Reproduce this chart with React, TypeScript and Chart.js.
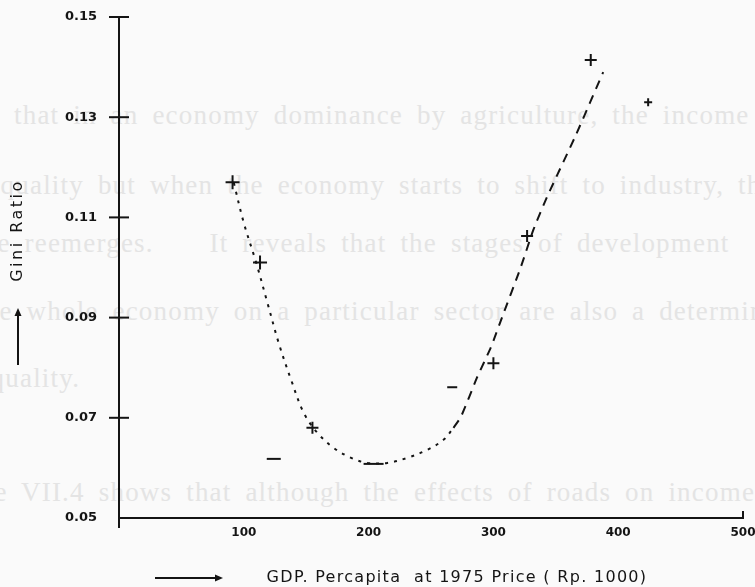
import React, { useEffect, useRef } from "react";
import { Chart, registerables } from "chart.js";

Chart.register(...registerables);

// Observed provinces (GDP per capita, Gini ratio)
const gdpObserved = [91, 113, 124, 155, 204, 267, 300, 327, 378, 424];
const giniObserved = [0.117, 0.101, 0.0618, 0.068, 0.0608, 0.0761, 0.0809, 0.1063, 0.1414, 0.133];

// Fitted curve, falling (dotted) part
const fallGdp = [92, 100, 110, 119, 128, 138, 148, 159, 172, 186, 199, 215, 231, 247, 260, 268];
const fallGini = [0.1169, 0.1089, 0.1009, 0.0929, 0.0849, 0.0775, 0.071, 0.067, 0.064, 0.062, 0.061, 0.061, 0.062, 0.0636, 0.0656, 0.068];

// Fitted curve, rising (dashed) part
const riseGdp = [268, 274, 287, 298, 307, 322, 332, 343, 366, 388];
const riseGini = [0.068, 0.0702, 0.0781, 0.0841, 0.0901, 0.1001, 0.1075, 0.1141, 0.1264, 0.139];

const xTicks = [100, 200, 300, 400, 500];
const yTicks = [0.05, 0.07, 0.09, 0.11, 0.13, 0.15];

const yTitle = "Gini Ratio";
const xTitle = "GDP. Percapita  at 1975 Price ( Rp. 1000)";

// faint page text showing through the scan
const pageLines = [
  "that in an economy dominance by agriculture, the income",
  "inequality but when the economy starts to shift to industry, the",
  "the reemerges.    It reveals that the stages of development",
  "the whole economy on a particular sector are also a determinant",
  "inequality.",
  "Table VII.4 shows that although the effects of roads on income",
];
const pageLineTop = [99, 169, 227, 295, 362, 476];
const pageLineLeft = [14, -36, -26, -24, -46, -58];

// marker styles (one per observed point)
const markerStyles = ["cross", "cross", "line", "cross", "line", "line", "cross", "cross", "cross", "cross"];
const markerSizes = [7, 7, 7, 6, 10, 5, 6, 6, 6, 4];

const INK = "#141414";

const decorPlugin = {
  id: "decor",
  beforeDraw(chart: any) {
    const patch = (s: any, dx: number, dy: number, sp: string, lsp: string) => {
      if (!s || s.__patched) return;
      const origTitle = s.drawTitle;
      const origLabels = s.drawLabels;
      s.drawTitle = function (...args: any[]) {
        const ctx = this.ctx;
        ctx.save();
        ctx.translate(dx, dy);
        ctx.letterSpacing = sp;
        origTitle.apply(this, args);
        ctx.restore();
      };
      s.drawLabels = function (...args: any[]) {
        const ctx = this.ctx;
        ctx.save();
        ctx.letterSpacing = lsp;
        origLabels.apply(this, args);
        ctx.restore();
      };
      s.__patched = true;
    };
    patch(chart.scales.x, 26, 0, "1.3px", "0px");
    patch(chart.scales.y, 0, -37, "2.5px", "0px");
  },
  afterDraw(chart: any) {
    const { ctx } = chart;
    const x = chart.scales.x;
    const y = chart.scales.y;
    const px0 = x.getPixelForValue(0);
    ctx.save();
    ctx.strokeStyle = INK;
    ctx.fillStyle = INK;
    ctx.lineWidth = 2;
    const line = (a: number, b: number, c: number, d: number) => {
      ctx.beginPath();
      ctx.moveTo(a, b);
      ctx.lineTo(c, d);
      ctx.stroke();
    };
    yTicks.forEach((v) => {
      if (v === y.min) return;
      const py = y.getPixelForValue(v);
      line(px0 - 10, py, px0 + 10, py);
    });
    // axis extension below the origin
    line(px0, y.bottom, px0, y.bottom + 10);
    // end tick of x axis
    line(x.right, y.bottom + 1, x.right, y.bottom - 7);
    // y title arrow
    line(18, 365, 18, 314);
    ctx.beginPath();
    ctx.moveTo(18, 308);
    ctx.lineTo(14.5, 316);
    ctx.lineTo(21.5, 316);
    ctx.closePath();
    ctx.fill();
    // x title arrow
    line(155, 578, 216, 578);
    ctx.beginPath();
    ctx.moveTo(223, 578);
    ctx.lineTo(215, 574.5);
    ctx.lineTo(215, 581.5);
    ctx.closePath();
    ctx.fill();
    ctx.restore();
  },
};

export default function App() {
  const ref = useRef<HTMLCanvasElement | null>(null);

  useEffect(() => {
    document.body.style.margin = "0";
    document.body.style.background = "#fafafa";
    const canvas = ref.current;
    if (!canvas) return;

    const observed = gdpObserved.map((g, i) => ({ x: g, y: giniObserved[i] }));
    const fall = fallGdp.map((g, i) => ({ x: g, y: fallGini[i] }));
    const rise = riseGdp.map((g, i) => ({ x: g, y: riseGini[i] }));

    const chart = new Chart(canvas, {
      type: "scatter",
      data: {
        datasets: [
          {
            label: "Fitted (falling)",
            data: fall,
            showLine: true,
            borderColor: INK,
            borderWidth: 2,
            borderDash: [3, 6],
            pointRadius: 0,
            tension: 0.35,
            fill: false,
          },
          {
            label: "Fitted (rising)",
            data: rise,
            showLine: true,
            borderColor: INK,
            borderWidth: 2,
            borderDash: [9, 7],
            pointRadius: 0,
            tension: 0.2,
            fill: false,
          },
          {
            label: "Observed",
            data: observed,
            showLine: false,
            pointStyle: markerStyles as any,
            pointRadius: markerSizes,
            borderColor: INK,
            backgroundColor: INK,
            pointBorderWidth: 2,
          },
        ],
      },
      options: {
        responsive: false,
        animation: false,
        devicePixelRatio: 1,
        layout: { padding: { top: 17, right: 11, bottom: 0, left: 0 } },
        plugins: {
          legend: { display: false },
          tooltip: { enabled: false },
        },
        scales: {
          x: {
            type: "linear",
            min: 0,
            max: 500,
            afterBuildTicks: (s: any) => {
              s.ticks = xTicks.map((v) => ({ value: v }));
            },
            afterFit: (s: any) => {
              s.height = 69;
              s.paddingLeft = 0;
              s.paddingRight = 0;
            },
            grid: { display: false, drawTicks: false },
            border: { display: true, color: INK, width: 2 },
            ticks: {
              padding: 8,
              color: INK,
              maxRotation: 0,
              font: { family: "DejaVu Sans", size: 12, weight: "bold" },
              callback: (v: any) => String(v),
            },
            title: {
              display: true,
              text: xTitle,
              color: INK,
              padding: { top: 0, bottom: 0 },
              font: { family: "DejaVu Sans", size: 16 },
            },
          },
          y: {
            type: "linear",
            min: 0.05,
            max: 0.15,
            afterBuildTicks: (s: any) => {
              s.ticks = yTicks.map((v) => ({ value: v }));
            },
            afterFit: (s: any) => {
              s.width = 119;
              s.paddingTop = 0;
              s.paddingBottom = 0;
            },
            grid: { display: false, drawTicks: false },
            border: { display: true, color: INK, width: 2 },
            ticks: {
              padding: 22,
              color: INK,
              font: { family: "DejaVu Sans", size: 13, weight: "bold" },
              callback: (v: any) => Number(v).toFixed(2),
            },
            title: {
              display: true,
              text: yTitle,
              color: INK,
              padding: { top: 8, bottom: 0 },
              font: { family: "DejaVu Sans", size: 16 },
            },
          },
        },
      },
      plugins: [decorPlugin],
    });

    return () => chart.destroy();
  }, []);

  return (
    <div style={{ width: 755, height: 587, position: "relative", overflow: "hidden" }}>
      {pageLines.map((t, i) => (
        <div
          key={i}
          style={{
            position: "absolute",
            top: pageLineTop[i],
            left: pageLineLeft[i],
            whiteSpace: "pre",
            fontFamily: "'Liberation Serif', serif",
            fontSize: 27,
            lineHeight: "32px",
            letterSpacing: 1.2,
            wordSpacing: 6,
            color: "#e4e4e4",
            pointerEvents: "none",
          }}
        >
          {t}
        </div>
      ))}
      <canvas
        ref={ref}
        width={755}
        height={587}
        style={{ display: "block", position: "absolute", left: 0, top: 0 }}
      />
    </div>
  );
}
